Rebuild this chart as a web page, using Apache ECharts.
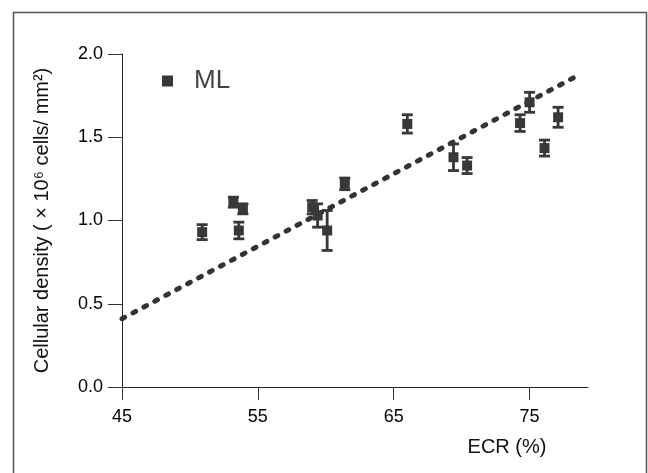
<!DOCTYPE html>
<html>
<head>
<meta charset="utf-8">
<script src="https://cdn.jsdelivr.net/npm/echarts@6/dist/echarts.min.js"></script>
<style>
html,body{margin:0;padding:0;background:#fff;}
#chart{width:648px;height:473px;}
</style>
</head>
<body>
<div id="chart"></div>
<script>
// ECR (%) values
var ecr = [50.9, 53.2, 53.9, 53.6, 59.0, 59.4, 60.1, 61.4, 66.0, 69.4, 70.4, 74.3, 75.0, 76.1, 77.1];
// Cellular density (x10^6 cells/mm^2)
var density = [0.93, 1.11, 1.07, 0.94, 1.08, 1.03, 0.94, 1.22, 1.58, 1.38, 1.33, 1.585, 1.71, 1.435, 1.62];
// error (± SE)
var err = [0.045, 0.03, 0.03, 0.05, 0.04, 0.07, 0.12, 0.035, 0.055, 0.08, 0.048, 0.05, 0.06, 0.048, 0.06];
// regression line endpoints
var fitX = [45, 78.3];
var fitY = [0.41, 1.86];
var xTicks = [45, 55, 65, 75];
var yTicks = [0.0, 0.5, 1.0, 1.5, 2.0];

var pts = ecr.map(function (x, i) { return [x, density[i]]; });
var errData = ecr.map(function (x, i) { return [x, density[i] - err[i], density[i] + err[i]]; });
var fitData = fitX.map(function (x, i) { return [x, fitY[i]]; });

var chart = echarts.init(document.getElementById('chart'));
var font = 'Liberation Sans, Arial, sans-serif';
var mark = '#383838';

chart.setOption({
  animation: false,
  backgroundColor: '#fff',
  textStyle: { fontFamily: font },
  grid: { left: 122, right: 60, top: 54, bottom: 86 },
  legend: {
    data: [{ name: 'ML', icon: 'rect', itemStyle: { color: mark, opacity: 1 } }],
    left: 157, top: 63,
    itemWidth: 11, itemHeight: 11,
    textStyle: { fontSize: 26, color: '#444', fontFamily: font, padding: [0, 0, 0, 16], lineHeight: 26 }
  },
  xAxis: {
    type: 'value', min: 45, max: 79.3, interval: 10,
    axisLine: { show: true, lineStyle: { color: '#222', width: 1 } },
    axisTick: { show: true, length: 13, lineStyle: { color: '#333' }, customValues: xTicks },
    axisLabel: { fontSize: 18, color: '#000', margin: 21, customValues: xTicks, fontFamily: font },
    splitLine: { show: false },
    name: 'ECR (%)', nameLocation: 'middle', nameGap: 50,
    nameTextStyle: { fontSize: 20, color: '#111', padding: [0, 0, 0, 304], fontFamily: font }
  },
  yAxis: {
    type: 'value', min: 0, max: 2, interval: 0.5,
    axisLine: { show: true, lineStyle: { color: '#222', width: 1 } },
    axisTick: { show: true, length: 14, lineStyle: { color: '#333' } },
    axisLabel: { fontSize: 18, color: '#000', margin: 19, fontFamily: font,
      formatter: function (v) { return v.toFixed(1); } },
    splitLine: { show: false },
    name: 'Cellular density ( \u00D7 10\u2076 cells/ mm\u00B2)', nameLocation: 'middle', nameGap: 70,
    nameTextStyle: { fontSize: 20, color: '#111', fontFamily: font }
  },
  graphic: [{
    type: 'rect', silent: true, z: -1,
    shape: { x: 13.5, y: 12.5, width: 633, height: 480 },
    style: { fill: 'none', stroke: '#555', lineWidth: 1.5 }
  }],
  series: [
    {
      name: 'fit', type: 'line', data: fitData, symbol: 'none', silent: true, z: 1,
      lineStyle: { color: '#333', width: 5, type: [3, 9.4], cap: 'round' }
    },
    {
      name: 'errors', type: 'custom', data: errData, z: 3,
      renderItem: function (params, api) {
        var x = api.value(0);
        var lo = api.coord([x, api.value(1)]);
        var hi = api.coord([x, api.value(2)]);
        var hw = 5.5;
        var st = { stroke: mark, lineWidth: 2.8 };
        return {
          type: 'group',
          children: [
            { type: 'line', shape: { x1: lo[0], y1: lo[1], x2: hi[0], y2: hi[1] }, style: st },
            { type: 'line', shape: { x1: lo[0] - hw, y1: lo[1], x2: lo[0] + hw, y2: lo[1] }, style: st },
            { type: 'line', shape: { x1: hi[0] - hw, y1: hi[1], x2: hi[0] + hw, y2: hi[1] }, style: st }
          ]
        };
      }
    },
    {
      name: 'ML', type: 'scatter', data: pts, symbol: 'rect', symbolSize: 10, z: 4,
      itemStyle: { color: mark, opacity: 1 }
    }
  ]
});
</script>
</body>
</html>
